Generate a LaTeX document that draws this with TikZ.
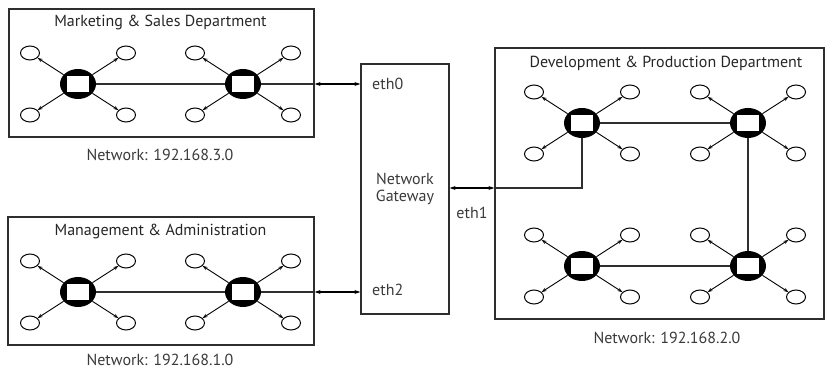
\documentclass[tikz,border=0pt]{standalone}
\usepackage{fontspec}
\setmainfont{PT Sans}
\usetikzlibrary{shapes.geometric,arrows.meta}

\definecolor{linegray}{HTML}{2E2E2E}
\definecolor{textgray}{HTML}{3A3A3A}

\begin{document}
\begin{tikzpicture}[x=1pt,y=-1pt,font=\fontsize{16}{17.5}\selectfont]
\tikzstyle{every node}+=[inner sep=0pt]
\tikzstyle{dept}=[draw=linegray,line width=1.3pt,rectangle]
\tikzstyle{hub}=[ellipse,fill=black,minimum width=36,minimum height=30]
\tikzstyle{port}=[rectangle,draw=black,fill=white,line width=1pt,minimum width=23,minimum height=17]
\tikzstyle{leaf}=[ellipse,draw=black,line width=1pt,minimum width=19,minimum height=14]
\tikzstyle{tip}=[-{Stealth[length=5pt,width=3.5pt]},line width=0.9pt]
\tikzstyle{wire}=[draw=linegray,line width=1.2pt]
\tikzstyle{link}=[{Stealth[length=6pt,width=4pt]}-{Stealth[length=6pt,width=4pt]},line width=1.1pt]
\tikzstyle{lbl}=[text=textgray]
\tikzstyle{head}=[text=black!85]

\useasboundingbox (0,0) rectangle (825,371);

% departments and gateway
\node[dept,minimum width=305,minimum height=128] (mkt) at (161.5,73) {};
\node[dept,minimum width=306,minimum height=128] (mgt) at (161,281) {};
\node[dept,minimum width=329,minimum height=271] (dev) at (659.5,183.5) {};
\node[dept,minimum width=88,minimum height=250] (gw) at (405,189) {};

\node[head] (mkttitle) at (160.5,23) {Marketing \& Sales Department};
\node[head] (mgttitle) at (160.5,232) {Management \& Administration};
\node[head] (devtitle) at (666,63) {Development \& Production Department};
\node[lbl] (mktnet) at (160,155) {Network: 192.168.3.0};
\node[lbl] (mgtnet) at (160,360) {Network: 192.168.1.0};
\node[lbl] (devnet) at (667,338) {Network: 192.168.2.0};
\node[lbl,align=center] (gwname) at (405,189) {Network\\Gateway};

% switches with their hosts
\foreach \s/\px/\py in {m1/78/84,m2/243/84,a1/78/292,a2/243/292,
                        d1/582/123,d2/748/123,d3/582/266,d4/748/266} {
  \node[hub] (\s) at (\px,\py) {};
  \node[leaf] (\s-nw) at (\px-48,\py-31) {};
  \node[leaf] (\s-ne) at (\px+48,\py-31) {};
  \node[leaf] (\s-sw) at (\px-48,\py+31) {};
  \node[leaf] (\s-se) at (\px+48,\py+31) {};
  \foreach \c in {nw,ne,sw,se}
    \draw[tip] (\s) -- (\s-\c);
  \node[port] (\s-port) at (\s) {};
}

% links to the gateway
\draw[wire] (m1) -- (m2) -- (mkt.east |- m2);
\draw[link] (mkt.east |- m2) -- (gw.west |- m2);
\node[lbl,anchor=west] (eth0) at (372,84) {eth0};

\draw[wire] (a1) -- (a2) -- (mgt.east |- a2);
\draw[link] (mgt.east |- a2) -- (gw.west |- a2);
\node[lbl,anchor=west] (eth2) at (372,290) {eth2};

\coordinate (gwout) at (gw.east |- 0,188);
\coordinate (devin) at (dev.west |- 0,188);
\draw[link] (gwout) -- (devin);
\draw[wire] (devin) -| (d1);
\node[lbl] (eth1) at (472,213) {eth1};

\draw[wire] (d1) -- (d2);
\draw[wire] (d2) -- (d4);
\draw[wire] (d3) -- (d4);
\end{tikzpicture}
\end{document}
